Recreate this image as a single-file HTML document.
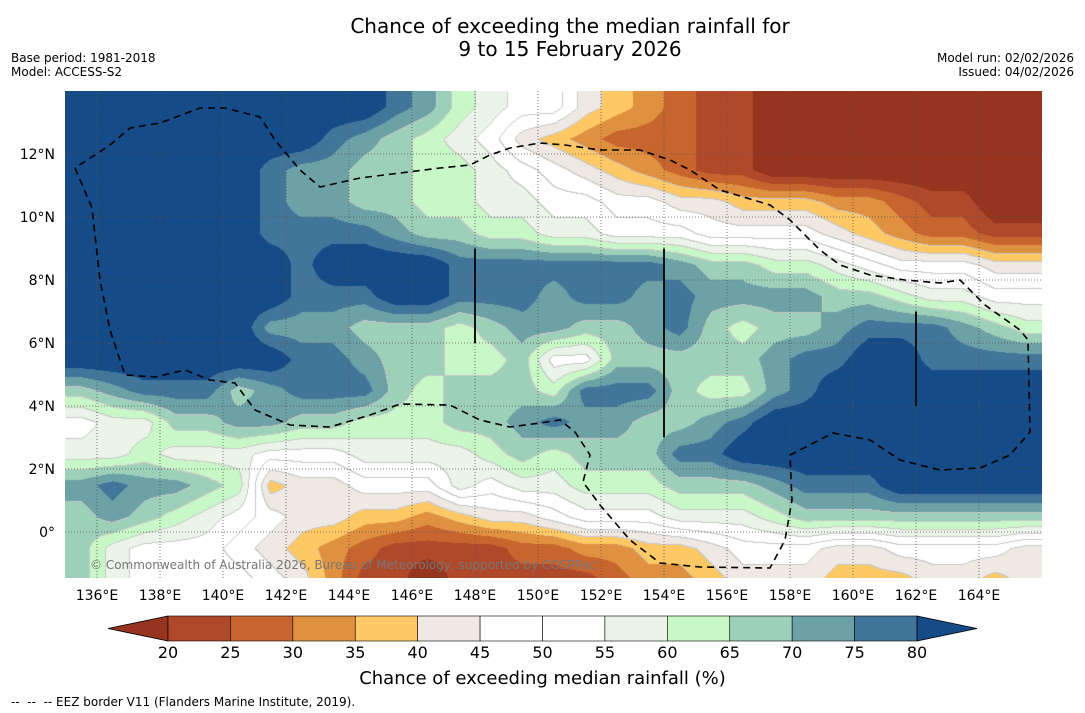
<!DOCTYPE html>
<html><head><meta charset="utf-8"><style>
body{margin:0;width:1085px;height:713px;background:#fff;font-family:"DejaVu Sans","Liberation Sans",sans-serif;position:relative;overflow:hidden}
.t{position:absolute;white-space:nowrap;color:#000}
</style></head><body>
<div class="t" style="left:0;width:1140px;text-align:center;top:15px;font-size:20px;line-height:23px">Chance of exceeding the median rainfall for<br>9 to 15 February 2026</div>
<div class="t" style="left:11px;top:51px;font-size:12px;line-height:14px">Base period: 1981-2018<br>Model: ACCESS-S2</div>
<div class="t" style="right:11px;top:51px;font-size:12px;line-height:14px;text-align:right">Model run: 02/02/2026<br>Issued: 04/02/2026</div>
<canvas id="map" width="977" height="487" style="position:absolute;left:65px;top:91px"></canvas>
<svg id="ov" width="1085" height="713" style="position:absolute;left:0;top:0"></svg>
<div class="t" style="left:90px;top:558px;font-size:12px;color:#777">© Commonwealth of Australia 2026, Bureau of Meteorology, supported by COSPPac</div>
<div class="t" style="left:0;width:1085px;text-align:center;top:668px;font-size:18px">Chance of exceeding median rainfall (%)</div>
<div class="t" style="left:11px;top:695px;font-size:12px">--&nbsp; --&nbsp; -- EEZ border V11 (Flanders Marine Institute, 2019).</div>
<script>
const lonTicks=[136,138,140,142,144,146,148,150,152,154,156,158,160,162,164];
const latTicks=[12,10,8,6,4,2,0];
const levels=[20,25,30,35,40,45,50,55,60,65,70,75,80];
const binColors=["#96341f","#b0492a","#c8652f","#e0913f","#fec864","#eee9e3","#ffffff","#ffffff","#eaf4e8","#c9f8c8","#9dd0b8","#6ca2a6","#42759a","#154b87"];
// grid rows: lat 14..-1 (1° cells), cols lon 135..165; hex char = colour bin index
const gridRows=[
"DDDDDDDDDDCB9877543211000000000",
"DDDDDDDDCBA98754322211000000000",
"DDDDDDCBBAA99876543211000000000",
"DDDDDDCBBAA99887766554443321100",
"DDDDDDCCCCBAA998877766665432211",
"DDDDDDDCDDDDCCCCCCCBAA998766655",
"DDDDDDDCCCDDCCCBCCBCBBBBAA98877",
"DDDDDDBBBAAA9ABBAABCA9AABCCCBA9",
"DDDDDDDCCBAA99A77AAAAABCCDDCCCC",
"ABCCCABCCCA9AAA9CCCA99BCDDDDDDD",
"788AABBAA999AABCBBAABCDDDDDDDDD",
"88988877788889A9AAACCDDDDDDDDDD",
"BCBBA94556668788999AAABCCCDDDDD",
"ABA98765544345567778889AAAAAAAA",
"A877765432111122334456665566665",
"A877776531101111123345554445545"];
const minLon=135,maxLat=14,pxPerDeg=31.5,mapX=65.5,mapY=91;
function xOf(lon){return mapX+(lon-minLon)*pxPerDeg;}
function yOf(lat){return mapY+(maxLat-lat)*pxPerDeg;}
function codeVal(c){const n=parseInt(c,16);return n===0?15:(n===13?85:17.5+5*n);}
const vals=gridRows.map(r=>{const a=[];for(let i=0;i<31;i++)a.push(codeVal(r[i]||r[r.length-1]));return a;});
function binOf(v){if(v<levels[0])return 0;if(v>=levels[levels.length-1])return 13;return 1+Math.floor((v-levels[0])/5);}
function hex(c){return[parseInt(c.slice(1,3),16),parseInt(c.slice(3,5),16),parseInt(c.slice(5,7),16)];}
const rgb=binColors.map(hex);
(function(){
 const cv=document.getElementById('map'),ctx=cv.getContext('2d');
 const W=cv.width,H=cv.height,img=ctx.createImageData(W,H),d=img.data;
 const nr=vals.length,nc=31;
 const binArr=new Int8Array(W*H);
 for(let py=0;py<H;py++){
  let fy=py/pxPerDeg-0.5;fy=Math.max(0,Math.min(nr-1,fy));
  const j0=Math.min(nr-2,Math.floor(fy)),ty=fy-j0;
  for(let px=0;px<W;px++){
   let fx=px/pxPerDeg-0.5;fx=Math.max(0,Math.min(nc-1,fx));
   const i0=Math.min(nc-2,Math.floor(fx)),tx=fx-i0;
   const v=(vals[j0][i0]*(1-tx)+vals[j0][i0+1]*tx)*(1-ty)+(vals[j0+1][i0]*(1-tx)+vals[j0+1][i0+1]*tx)*ty;
   const b=binOf(v);binArr[py*W+px]=b;
   const c=rgb[b],k=(py*W+px)*4;
   d[k]=c[0];d[k+1]=c[1];d[k+2]=c[2];d[k+3]=255;
  }
 }
 for(let py=1;py<H;py++)for(let px=1;px<W;px++){
  const b=binArr[py*W+px];
  if((b!==binArr[py*W+px-1]||b!==binArr[(py-1)*W+px])&&b>=4&&b<=10){const k=(py*W+px)*4;d[k]=d[k+1]=d[k+2]=200;}
 }
 ctx.putImageData(img,0,0);
})();
const NS="http://www.w3.org/2000/svg";
const ov=document.getElementById('ov');
function el(tag,at,parent){const e=document.createElementNS(NS,tag);for(const k in at)e.setAttribute(k,at[k]);(parent||ov).appendChild(e);return e;}
lonTicks.forEach(lon=>{
 const x=xOf(lon);
 const g=el('line',{x1:x,x2:x,y1:91,y2:578,stroke:'#555','stroke-width':0.8,'stroke-dasharray':'1,2'});
 
 
 const t=el('text',{x:x,y:600,'font-size':14,'text-anchor':'middle','font-family':'DejaVu Sans, sans-serif'});
 t.textContent=lon+'°E';
 
 
});
latTicks.forEach(lat=>{
 const y=yOf(lat);
 const g=el('line',{x1:65,x2:1042,y1:y,y2:y,stroke:'#555','stroke-width':0.8,'stroke-dasharray':'1,2'});
 
 
 const t=el('text',{x:55,y:y+5,'font-size':14,'text-anchor':'end','font-family':'DejaVu Sans, sans-serif'});
 t.textContent=lat===0?'0°':lat+'°N';
 
 
});
[[148,9,6],[154,9,3],[162,7,4]].forEach(s=>{
 const l=el('line',{x1:xOf(s[0]),x2:xOf(s[0]),y1:yOf(s[1]),y2:yOf(s[2]),stroke:'#111','stroke-width':2});
 
 
});
const eez="75,168 92,208 100,280 110,330 125,375 155,377 185,370 210,380 235,383 255,410 290,425 330,427 370,415 400,404 450,405 480,420 510,427 540,423 560,420 575,432 590,455 583,482 600,505 630,540 660,563 700,567 770,568 785,540 792,500 790,455 800,450 833,433 870,440 900,460 940,470 980,468 1010,455 1030,432 1028,340 1020,330 985,305 960,280 940,283 905,280 870,275 840,265 820,250 790,220 770,205 720,190 690,170 670,160 640,150 600,150 565,145 540,143 510,148 490,155 470,165 440,168 360,178 320,187 300,170 275,140 260,117 225,108 200,108 160,123 130,128 110,145 75,168";
const pe=el('polyline',{points:eez,fill:'none',stroke:'#000','stroke-width':1.6,'stroke-dasharray':'7,5'});


const cbX0=168,cbW=(917-168)/12,cbY=616,cbH=25;
const lo=el('polygon',{points:`108,${cbY+cbH/2} ${cbX0},${cbY} ${cbX0},${cbY+cbH}`,fill:binColors[0],stroke:'#000','stroke-width':0.8});


for(let i=0;i<12;i++){
 const r=el('rect',{x:cbX0+i*cbW,y:cbY,width:cbW,height:cbH,fill:binColors[i+1],stroke:'#000','stroke-width':0.6});
 
 
}
const hi=el('polygon',{points:`977,${cbY+cbH/2} 917,${cbY} 917,${cbY+cbH}`,fill:binColors[13],stroke:'#000','stroke-width':0.8});


levels.forEach((lv,i)=>{
 const t=el('text',{x:cbX0+i*cbW,y:658,'font-size':16,'text-anchor':'middle','font-family':'DejaVu Sans, sans-serif'});
 t.textContent=lv;
 
 
});
</script>
</body></html>
